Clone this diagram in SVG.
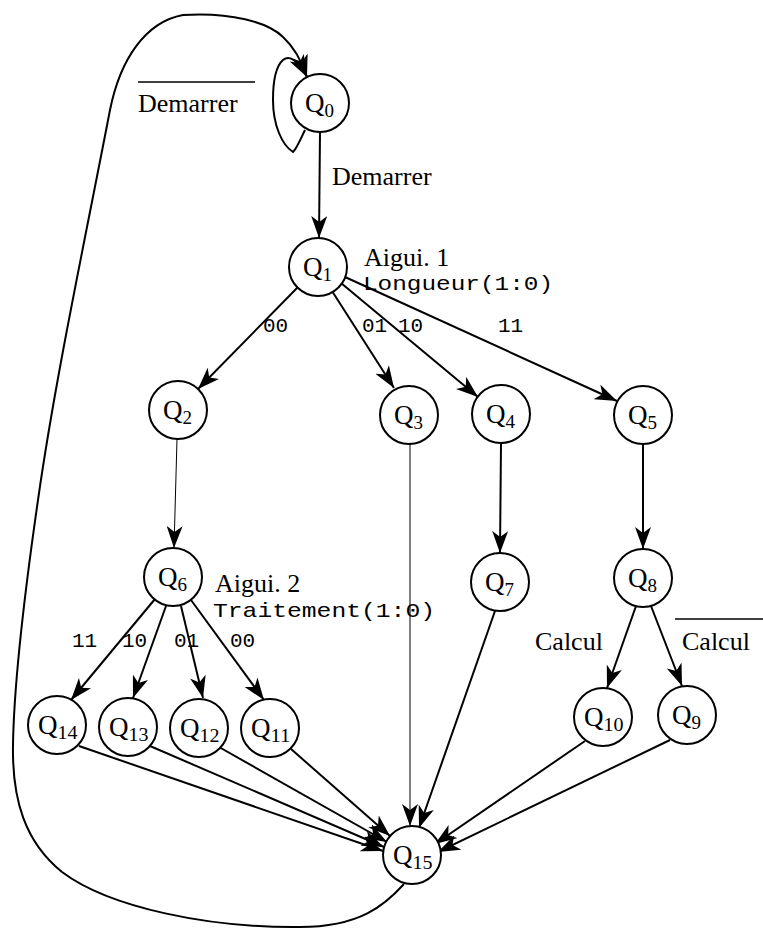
<svg xmlns="http://www.w3.org/2000/svg" width="763" height="929" viewBox="0 0 763 929">
<style>
.node circle{fill:#fff;stroke:#000;stroke-width:2}
.q{font-family:"Liberation Serif",serif;font-size:27px;fill:#000}
.sub{font-size:19px}
.e{stroke:#000;stroke-width:2;fill:none;marker-end:url(#ah)}
.t{stroke:#000;stroke-width:1;fill:none;marker-end:url(#ah)}
.ser{font-family:"Liberation Serif",serif;font-size:26px;fill:#000}
.mono{font-family:"Liberation Mono",monospace;font-size:21px;fill:#000}
</style>
<defs>
<marker id="ah" viewBox="0 0 22 16" refX="22" refY="8" markerWidth="22" markerHeight="16" markerUnits="userSpaceOnUse" orient="auto">
<path d="M0,0 L22,8 L0,16 L6,8 Z" fill="#000"/>
</marker>
</defs>
<rect width="763" height="929" fill="#fff"/>
<g id="connectors">
<path class="e" d="M320,132 L319,238"/>
<path class="e" d="M298,287 L198,389"/>
<path class="e" d="M332,291 L394,388"/>
<path class="e" d="M341,283 L478,397"/>
<path class="e" d="M345,277 L617,401"/>
<path class="t" d="M177,439 L174,548"/>
<path class="e" d="M501,443 L500,553"/>
<path class="e" d="M643,444 L643,549"/>
<path class="e" d="M155,599 L71,700"/>
<path class="e" d="M166,606 L133,698"/>
<path class="e" d="M181,606 L203,698"/>
<path class="e" d="M191,600 L264,700"/>
<path class="e" d="M636,606 L607,688"/>
<path class="e" d="M651,606 L682,686"/>
<path class="t" d="M410,444 L410,826"/>
<path class="e" d="M495,611 L419,828"/>
<path class="e" d="M79,746 L383,851"/>
<path class="e" d="M150,746 L384,847"/>
<path class="e" d="M219,747 L387,842"/>
<path class="e" d="M291,749 L390,836"/>
<path class="e" d="M585,741 L435,844"/>
<path class="e" d="M670,740 L438,852"/>
<path class="e" d="M404,884 C385,905 360,927 300,927 C210,928 110,908 62,872 C25,842 12,800 13,745 C14,680 25,590 38,500 C55,380 85,240 110,110 C120,60 145,22 183,15 C230,12 268,22 283,37 C295,48 302,62 307,77"/>
<path class="e" d="M305,130 C300,140 297,148 293,152 C282,145 273,125 273,100 C273,80 276,66 283,60 C290,54 299,62 307,77"/>
</g>
<g id="Q0" class="node"><circle cx="320" cy="103" r="29"/><text class="q" x="305" y="112">Q<tspan class="sub" dy="5">0</tspan></text></g>
<g id="Q1" class="node"><circle cx="318" cy="267" r="29"/><text class="q" x="303" y="276">Q<tspan class="sub" dy="5">1</tspan></text></g>
<g id="Q2" class="node"><circle cx="178" cy="410" r="29"/><text class="q" x="163" y="419">Q<tspan class="sub" dy="5">2</tspan></text></g>
<g id="Q3" class="node"><circle cx="409" cy="415" r="29"/><text class="q" x="394" y="424">Q<tspan class="sub" dy="5">3</tspan></text></g>
<g id="Q4" class="node"><circle cx="501" cy="414" r="29"/><text class="q" x="486" y="423">Q<tspan class="sub" dy="5">4</tspan></text></g>
<g id="Q5" class="node"><circle cx="643" cy="415" r="29"/><text class="q" x="628" y="424">Q<tspan class="sub" dy="5">5</tspan></text></g>
<g id="Q6" class="node"><circle cx="173" cy="577" r="29"/><text class="q" x="158" y="586">Q<tspan class="sub" dy="5">6</tspan></text></g>
<g id="Q7" class="node"><circle cx="500" cy="582" r="29"/><text class="q" x="485" y="591">Q<tspan class="sub" dy="5">7</tspan></text></g>
<g id="Q8" class="node"><circle cx="643" cy="578" r="29"/><text class="q" x="628" y="587">Q<tspan class="sub" dy="5">8</tspan></text></g>
<g id="Q9" class="node"><circle cx="687" cy="715" r="29"/><text class="q" x="672" y="724">Q<tspan class="sub" dy="5">9</tspan></text></g>
<g id="Q10" class="node"><circle cx="603" cy="717" r="29"/><text class="q" x="584" y="726">Q<tspan class="sub" dy="5" textLength="20" lengthAdjust="spacingAndGlyphs">10</tspan></text></g>
<g id="Q11" class="node"><circle cx="270" cy="728" r="29"/><text class="q" x="251" y="737">Q<tspan class="sub" dy="5" textLength="20" lengthAdjust="spacingAndGlyphs">11</tspan></text></g>
<g id="Q12" class="node"><circle cx="199" cy="728" r="29"/><text class="q" x="180" y="737">Q<tspan class="sub" dy="5" textLength="20" lengthAdjust="spacingAndGlyphs">12</tspan></text></g>
<g id="Q13" class="node"><circle cx="128" cy="727" r="29"/><text class="q" x="109" y="736">Q<tspan class="sub" dy="5" textLength="20" lengthAdjust="spacingAndGlyphs">13</tspan></text></g>
<g id="Q14" class="node"><circle cx="57" cy="725" r="29"/><text class="q" x="38" y="734">Q<tspan class="sub" dy="5" textLength="20" lengthAdjust="spacingAndGlyphs">14</tspan></text></g>
<g id="Q15" class="node"><circle cx="412" cy="855" r="29"/><text class="q" x="393" y="864">Q<tspan class="sub" dy="5" textLength="20" lengthAdjust="spacingAndGlyphs">15</tspan></text></g>
<g id="labels">
<line x1="138" y1="82" x2="255" y2="82" stroke="#000" stroke-width="1.5"/>
<text class="ser" x="138" y="112">Demarrer</text>
<text class="ser" x="332" y="185">Demarrer</text>
<text class="ser" x="364" y="266">Aigui. 1</text>
<text class="mono" x="363" y="290" font-size="19" textLength="190" lengthAdjust="spacingAndGlyphs">Longueur(1:0)</text>
<text class="mono" x="263" y="332">00</text>
<text class="mono" x="362" y="332">01</text>
<text class="mono" x="398" y="332">10</text>
<text class="mono" x="498" y="332">11</text>
<text class="ser" x="215" y="592">Aigui. 2</text>
<text class="mono" x="213" y="617" font-size="19" textLength="222" lengthAdjust="spacingAndGlyphs">Traitement(1:0)</text>
<text class="mono" x="72" y="647">11</text>
<text class="mono" x="122" y="647">10</text>
<text class="mono" x="174" y="647">01</text>
<text class="mono" x="230" y="647">00</text>
<text class="ser" x="535" y="650">Calcul</text>
<line x1="675" y1="619" x2="763" y2="619" stroke="#000" stroke-width="1.5"/>
<text class="ser" x="682" y="650">Calcul</text>
</g>
</svg>
